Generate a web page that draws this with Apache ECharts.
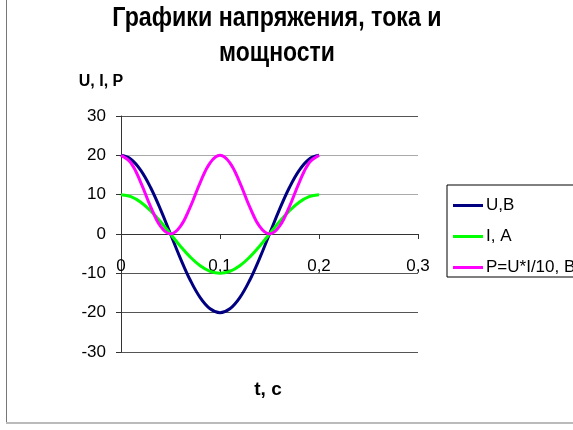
<!DOCTYPE html>
<html><head><meta charset="utf-8">
<script src="https://cdn.jsdelivr.net/npm/echarts@6/dist/echarts.min.js"></script>
<style>html,body{margin:0;padding:0;background:#fff}#c{width:573px;height:430px}</style>
</head><body><div id="c"></div>
<script>
var t = [0,0.01,0.02,0.03,0.04,0.05,0.06,0.07,0.08,0.09,0.1,0.11,0.12,0.13,0.14,0.15,0.16,0.17,0.18,0.19,0.2];
var U = [20,19.02,16.18,11.76,6.18,0,-6.18,-11.76,-16.18,-19.02,-20,-19.02,-16.18,-11.76,-6.18,0,6.18,11.76,16.18,19.02,20];
var I = [10,9.51,8.09,5.88,3.09,0,-3.09,-5.88,-8.09,-9.51,-10,-9.51,-8.09,-5.88,-3.09,0,3.09,5.88,8.09,9.51,10];
var P = [20,18.09,13.09,6.91,1.91,0,1.91,6.91,13.09,18.09,20,18.09,13.09,6.91,1.91,0,1.91,6.91,13.09,18.09,20];
var seriesNames = ['U,B','I, A','P=U*I/10, Вт'];
var seriesColors = ['#000080','#00ff00','#ff00ff'];
var titleLines = ['Графики напряжения, тока и','мощности'];
var yName = 'U, I, P';
var xName = 't, c';

function pairs(xs, ys){ return xs.map(function(x,i){ return [x, ys[i]]; }); }
var chart = echarts.init(document.getElementById('c'));
var F = 'Liberation Sans, Arial, sans-serif';
chart.setOption({
  animation:false,
  grid:{left:121,right:155,top:116,bottom:78},
  xAxis:{type:'value',min:0,max:0.3,interval:0.1,position:'bottom',offset:-118,
    axisLine:{onZero:false,lineStyle:{color:'#333',width:1}},
    axisTick:{show:true,length:5,lineStyle:{color:'#333'}},
    splitLine:{show:false},
    axisLabel:{margin:24,color:'#000',fontFamily:F,fontSize:17,
      formatter:function(v){return String(Math.round(v*10)/10).replace('.',',');}}},
  yAxis:{type:'value',min:-30,max:30,interval:10,
    axisLine:{show:true,onZero:false,lineStyle:{color:'#333',width:1}},
    axisTick:{show:true,length:5,lineStyle:{color:'#333'}},
    splitLine:{show:true,lineStyle:{color:['#555','#555','#555','#333','#aaa','#aaa','#555'],width:1}},
    axisLabel:{margin:15,color:'#000',fontFamily:F,fontSize:17}},
  legend:{orient:'vertical',left:447,top:185,padding:[12,10,1,6],itemGap:14,
    borderColor:'#000',borderWidth:1,icon:'rect',itemWidth:30,itemHeight:3,
    textStyle:{fontFamily:F,fontSize:17,color:'#000',padding:[0,0,0,-2]},
    data:seriesNames},
  series:[U,I,P].map(function(d,i){return {name:seriesNames[i],type:'line',data:pairs(t,d),
    smooth:0.4,showSymbol:false,lineStyle:{width:3,color:seriesColors[i]},itemStyle:{color:seriesColors[i]}};}),
  graphic:[
    {type:'text',x:277,y:18,scaleX:0.83,style:{text:titleLines[0],font:'bold 28px '+F,textAlign:'center',textVerticalAlign:'middle',fill:'#000'}},
    {type:'text',x:277,y:53,scaleX:0.82,style:{text:titleLines[1],font:'bold 28px '+F,textAlign:'center',textVerticalAlign:'middle',fill:'#000'}},
    {type:'text',x:101,y:82,style:{text:yName,font:'bold 16px '+F,textAlign:'center',textVerticalAlign:'middle',fill:'#000'}},
    {type:'text',x:268,y:390,style:{text:xName,font:'bold 19px '+F,textAlign:'center',textVerticalAlign:'middle',fill:'#000'}},
    {type:'line',shape:{x1:6.5,y1:0,x2:6.5,y2:423},style:{stroke:'#777',lineWidth:1}},
    {type:'line',shape:{x1:6,y1:423,x2:573,y2:423},style:{stroke:'#bbb',lineWidth:2}}
  ]
});
</script></body></html>
